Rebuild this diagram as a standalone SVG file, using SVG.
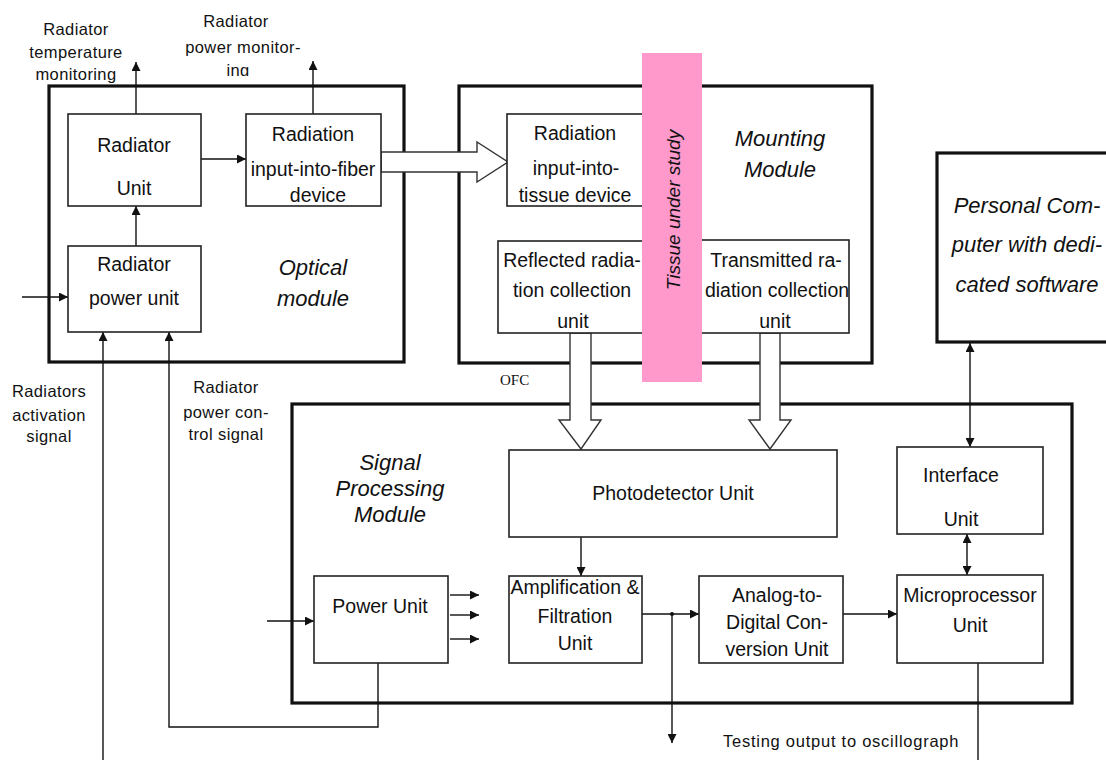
<svg xmlns="http://www.w3.org/2000/svg" width="1106" height="760" viewBox="0 0 1106 760">
<defs>
<style>
.mod{fill:none;stroke:#111;stroke-width:3.2}
.box{fill:#fff;stroke:#222;stroke-width:1.6}
.ln{fill:none;stroke:#111;stroke-width:1.4}
.t{font-family:"Liberation Sans",Arial,sans-serif;font-size:19.5px;fill:#111;text-anchor:middle}
.it{font-family:"Liberation Sans",Arial,sans-serif;font-size:22px;font-style:italic;fill:#111;text-anchor:middle}
.s{font-family:"Liberation Sans",Arial,sans-serif;font-size:16.5px;fill:#111;text-anchor:middle;letter-spacing:0.4px}
.hol{fill:#fff;stroke:#333;stroke-width:1.4}
</style>
<marker id="ah" viewBox="0 0 10 10" refX="10" refY="5" markerWidth="9" markerHeight="9" markerUnits="userSpaceOnUse" orient="auto-start-reverse">
<path d="M0,0 L10,5 L0,10 z" fill="#111"/>
</marker>
<clipPath id="clipIng"><rect x="0" y="0" width="400" height="76"/></clipPath>
</defs>

<g id="optical-module">
<rect class="mod" x="49" y="86" width="355" height="276"/>
<text class="it" x="313" y="275">Optical</text>
<text class="it" x="313" y="306">module</text>
</g>

<g id="mounting-module">
<rect class="mod" x="459" y="86" width="413" height="277"/>
<text class="it" x="780" y="146">Mounting</text>
<text class="it" x="780" y="177">Module</text>
</g>

<g id="signal-processing-module">
<rect class="mod" x="292" y="404" width="780" height="299"/>
<text class="it" x="390" y="470">Signal</text>
<text class="it" x="390" y="496">Processing</text>
<text class="it" x="390" y="522">Module</text>
</g>

<g id="pc">
<rect class="mod" x="937" y="153" width="175" height="189"/>
<text class="it" x="1027" y="213">Personal Com-</text>
<text class="it" x="1027" y="252">puter with dedi-</text>
<text class="it" x="1027" y="292">cated software</text>
</g>

<g id="connectors">
<line class="ln" x1="136" y1="114" x2="136" y2="62" marker-end="url(#ah)"/>
<line class="ln" x1="313" y1="114" x2="313" y2="61" marker-end="url(#ah)"/>
<line class="ln" x1="201" y1="159" x2="246" y2="159" marker-end="url(#ah)"/>
<line class="ln" x1="136" y1="246" x2="136" y2="206" marker-end="url(#ah)"/>
<line class="ln" x1="22" y1="297" x2="68" y2="297" marker-end="url(#ah)"/>
<line class="ln" x1="103" y1="760" x2="103" y2="332" marker-end="url(#ah)"/>
<polyline class="ln" points="378,663 378,727 169,727 169,332" marker-end="url(#ah)"/>
<line class="ln" x1="267" y1="621" x2="314" y2="621" marker-end="url(#ah)"/>
<line class="ln" x1="450" y1="595" x2="479" y2="595" marker-end="url(#ah)"/>
<line class="ln" x1="450" y1="615" x2="479" y2="615" marker-end="url(#ah)"/>
<line class="ln" x1="450" y1="639" x2="479" y2="639" marker-end="url(#ah)"/>
<line class="ln" x1="581" y1="537" x2="581" y2="576" marker-end="url(#ah)"/>
<line class="ln" x1="642" y1="614" x2="699" y2="614" marker-end="url(#ah)"/>
<circle cx="672" cy="614" r="2" fill="#111"/>
<line class="ln" x1="672" y1="614" x2="672" y2="743" marker-end="url(#ah)"/>
<line class="ln" x1="843" y1="614" x2="897" y2="614" marker-end="url(#ah)"/>
<line class="ln" x1="970" y1="343" x2="970" y2="447" marker-start="url(#ah)" marker-end="url(#ah)"/>
<line class="ln" x1="967" y1="534" x2="967" y2="575" marker-start="url(#ah)" marker-end="url(#ah)"/>
<line class="ln" x1="978" y1="663" x2="978" y2="760"/>
<polygon class="hol" points="381,152 477,152 477,142 508,162 477,182 477,172 381,172"/>
<polygon class="hol" points="570,333 591,333 591,420 601,420 581,449 559,420 570,420"/>
<polygon class="hol" points="760,333 780,333 780,420 791,420 770,449 749,420 760,420"/>
</g>

<g id="radiator-unit">
<rect class="box" x="68" y="114" width="133" height="92"/>
<text class="t" x="134" y="152">Radiator</text>
<text class="t" x="134" y="195">Unit</text>
</g>

<g id="fiber-device">
<rect class="box" x="246" y="114" width="135" height="92"/>
<text class="t" x="313" y="141">Radiation</text>
<text class="t" x="313" y="176">input-into-fiber</text>
<text class="t" x="318" y="202">device</text>
</g>

<g id="radiator-power-unit">
<rect class="box" x="68" y="246" width="133" height="86"/>
<text class="t" x="134" y="271">Radiator</text>
<text class="t" x="134" y="305">power unit</text>
</g>

<g id="tissue-device">
<rect class="box" x="507" y="114" width="140" height="92"/>
<text class="t" x="575" y="140">Radiation</text>
<text class="t" x="576" y="175">input-into-</text>
<text class="t" x="575" y="202">tissue device</text>
</g>

<g id="reflected-unit">
<rect class="box" x="498" y="241" width="150" height="92"/>
<text class="t" x="572" y="267">Reflected radia-</text>
<text class="t" x="572" y="297">tion collection</text>
<text class="t" x="573" y="328">unit</text>
</g>

<g id="transmitted-unit">
<rect class="box" x="697" y="240" width="152" height="93"/>
<text class="t" x="776" y="267">Transmitted ra-</text>
<text class="t" x="777" y="297">diation collection</text>
<text class="t" x="775" y="328">unit</text>
</g>

<g id="tissue">
<rect x="642" y="53" width="60" height="329" fill="#ff99cc"/>
<text class="it" style="font-size:19px" transform="translate(680,210) rotate(-90)">Tissue under study</text>
</g>

<g id="photodetector">
<rect class="box" x="509" y="450" width="328" height="87"/>
<text class="t" x="673" y="500">Photodetector Unit</text>
</g>

<g id="amplification">
<rect class="box" x="509" y="576" width="133" height="87"/>
<text class="t" x="575" y="594">Amplification &amp;</text>
<text class="t" x="575" y="623">Filtration</text>
<text class="t" x="575" y="650">Unit</text>
</g>

<g id="adc">
<rect class="box" x="699" y="576" width="144" height="87"/>
<text class="t" x="777" y="602">Analog-to-</text>
<text class="t" x="777" y="629">Digital Con-</text>
<text class="t" x="777" y="656">version Unit</text>
</g>

<g id="power-unit">
<rect class="box" x="314" y="576" width="134" height="87"/>
<text class="t" x="380" y="613">Power Unit</text>
</g>

<g id="interface">
<rect class="box" x="897" y="447" width="146" height="87"/>
<text class="t" x="961" y="482">Interface</text>
<text class="t" x="961" y="526">Unit</text>
</g>

<g id="microprocessor">
<rect class="box" x="897" y="575" width="146" height="88"/>
<text class="t" x="970" y="602">Microprocessor</text>
<text class="t" x="970" y="632">Unit</text>
</g>

<g id="labels">
<text class="s" x="76" y="35">Radiator</text>
<text class="s" x="76" y="58">temperature</text>
<text class="s" x="76" y="80">monitoring</text>
<text class="s" x="236" y="27">Radiator</text>
<text class="s" x="243" y="53">power monitor-</text>
<text class="s" x="238" y="76" clip-path="url(#clipIng)">ing</text>
<text class="s" x="49" y="397">Radiators</text>
<text class="s" x="49" y="421">activation</text>
<text class="s" x="49" y="442">signal</text>
<text class="s" x="226" y="393">Radiator</text>
<text class="s" x="226" y="418">power con-</text>
<text class="s" x="226" y="440">trol signal</text>
<text x="500" y="385" style="font-family:'Liberation Serif','Times New Roman',serif;font-size:15px;fill:#111">OFC</text>
<text class="s" x="723" y="747" style="text-anchor:start;letter-spacing:0.75px">Testing output to oscillograph</text>
</g>
</svg>
